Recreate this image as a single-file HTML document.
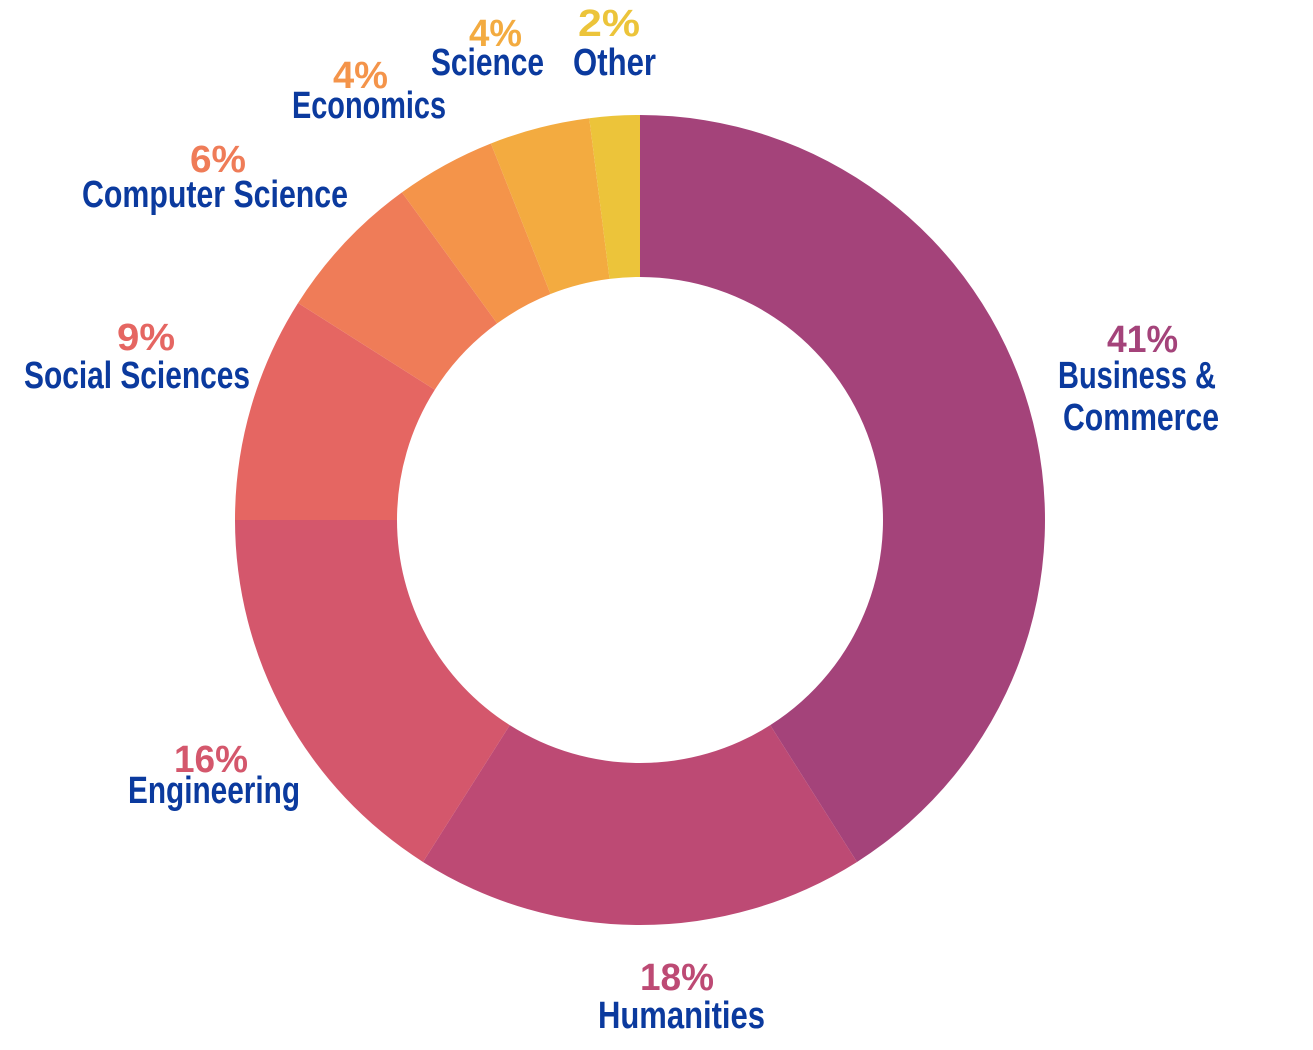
<!DOCTYPE html>
<html><head><meta charset="utf-8"><style>
html,body{margin:0;padding:0;background:#fff;}
svg{display:block}
text{font-family:"Liberation Sans Narrow","Liberation Sans",sans-serif;font-weight:bold;font-size:38px;}
.l{fill:#0b3a9e}
</style></head><body>
<svg id="s" width="1313" height="1050" viewBox="0 0 1313 1050" xmlns="http://www.w3.org/2000/svg">
<g id="d"></g>
<text x="1107" y="352" fill="#a4437a" textLength="71" lengthAdjust="spacingAndGlyphs">41%</text>
<text class="l" x="1058" y="388" textLength="158" lengthAdjust="spacingAndGlyphs">Business &amp;</text>
<text class="l" x="1063" y="430" textLength="156" lengthAdjust="spacingAndGlyphs">Commerce</text>
<text x="640" y="990" fill="#bd4a74" textLength="74" lengthAdjust="spacingAndGlyphs">18%</text>
<text class="l" x="598" y="1028" textLength="167" lengthAdjust="spacingAndGlyphs">Humanities</text>
<text x="174" y="772" fill="#d4576c" textLength="74" lengthAdjust="spacingAndGlyphs">16%</text>
<text class="l" x="128" y="803" textLength="172" lengthAdjust="spacingAndGlyphs">Engineering</text>
<text x="117" y="350" fill="#e56662" textLength="58" lengthAdjust="spacingAndGlyphs">9%</text>
<text class="l" x="24" y="388" textLength="226" lengthAdjust="spacingAndGlyphs">Social Sciences</text>
<text x="190" y="172" fill="#ef7c58" textLength="56" lengthAdjust="spacingAndGlyphs">6%</text>
<text class="l" x="82" y="207" textLength="266" lengthAdjust="spacingAndGlyphs">Computer Science</text>
<text x="333" y="88" fill="#f4944a" textLength="55" lengthAdjust="spacingAndGlyphs">4%</text>
<text class="l" x="292" y="118" textLength="154" lengthAdjust="spacingAndGlyphs">Economics</text>
<text x="469" y="46" fill="#f3ab40" textLength="53" lengthAdjust="spacingAndGlyphs">4%</text>
<text class="l" x="431" y="75" textLength="113" lengthAdjust="spacingAndGlyphs">Science</text>
<text x="578" y="36" fill="#ecc43a" textLength="62" lengthAdjust="spacingAndGlyphs">2%</text>
<text class="l" x="573" y="75" textLength="83" lengthAdjust="spacingAndGlyphs">Other</text>
</svg>
<script>
var cx=640,cy=520,R=405,r=243;
var v=[41,18,16,9,6,4,4,2];
var c=["#a4437a","#bd4a74","#d4576c","#e56662","#ef7c58","#f4944a","#f3ab40","#ecc43a"];
var g=document.getElementById("d"),a=0,h="";
function p(ang,rad){var t=ang*Math.PI/180;return [(cx+rad*Math.sin(t)).toFixed(2),(cy-rad*Math.cos(t)).toFixed(2)];}
for(var i=0;i<v.length;i++){
 var b=a+v[i]*3.6,lg=(b-a)>180?1:0;
 var p1=p(a,R),p2=p(b,R),p3=p(b,r),p4=p(a,r);
 h+='<path fill="'+c[i]+'" d="M'+p1+' A'+R+' '+R+' 0 '+lg+' 1 '+p2+' L'+p3+' A'+r+' '+r+' 0 '+lg+' 0 '+p4+' Z"/>';
 a=b;
}
g.innerHTML=h;
</script>
</body></html>
